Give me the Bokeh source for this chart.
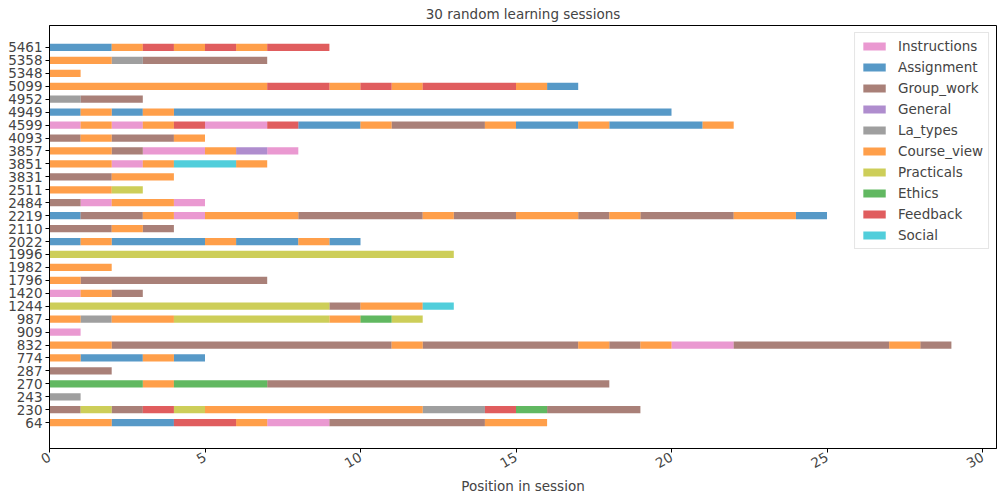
import math
from bokeh.plotting import figure
from bokeh.models import ColumnDataSource, Range1d, FixedTicker, Legend, LegendItem
from bokeh.embed import file_html
from bokeh.resources import INLINE

# Categories (legend order) and colours
categories = ["Instructions", "Assignment", "Group_work", "General", "La_types",
              "Course_view", "Practicals", "Ethics", "Feedback", "Social"]
colors = ["#e377c2", "#1f77b4", "#8c564b", "#9467bd", "#7f7f7f",
          "#ff7f0e", "#bcbd22", "#2ca02c", "#d62728", "#17becf"]
codes = {"I": "Instructions", "A": "Assignment", "G": "Group_work", "N": "General",
         "L": "La_types", "C": "Course_view", "P": "Practicals", "E": "Ethics",
         "F": "Feedback", "S": "Social"}

# Sessions, bottom to top, and their action sequences (one letter per position)
sessions = ["64", "230", "243", "270", "287", "774", "832", "909", "987", "1244",
            "1420", "1796", "1982", "1996", "2022", "2110", "2219", "2484", "2511", "3831",
            "3851", "3857", "4093", "4599", "4949", "4952", "5099", "5348", "5358", "5461"]
sequences = [
    "CCAAFFCIIGGGGGCC",                 # 64
    "GPGFPCCCCCCCLLFEGGG",              # 230
    "L",                                # 243
    "EEECEEEGGGGGGGGGGG",               # 270
    "GG",                               # 287
    "CAACA",                            # 774
    "CCGGGGGGGGGCGGGGGCGCIIGGGGGCG",    # 832
    "I",                                # 909
    "CLCCPPPPPCEP",                     # 987
    "PPPPPPPPPGCCS",                    # 1244
    "ICG",                              # 1420
    "CGGGGGG",                          # 1796
    "CC",                               # 1982
    "PPPPPPPPPPPPP",                    # 1996
    "ACAAACAACA",                       # 2022
    "GGCG",                             # 2110
    "AGGCICCCGGGGCGGCCGCGGGCCA",        # 2219
    "GICCI",                            # 2484
    "CCP",                              # 2511
    "GGCC",                             # 3831
    "CCICSSC",                          # 3851
    "CCGIICNI",                         # 3857
    "GCGGC",                            # 4093
    "ICICFIIFAACGGGCAACAAAC",           # 4599
    "ACACAAAAAAAAAAAAAAAA",             # 4949
    "LGG",                              # 4952
    "CCCCCCCFFCFCFFFCA",                # 5099
    "C",                                # 5348
    "CCLGGGG",                          # 5358
    "AACFCFCFF",                        # 5461
]

FONT = "DejaVu Sans"

p = figure(width=1000, height=500, output_backend="svg", toolbar_location=None,
           x_range=Range1d(0, 30.45), y_range=Range1d(-2.0, 30.7),
           min_border_left=49, min_border_right=4, min_border_top=24, min_border_bottom=52,
           title="30 random learning sessions")
p.title.align = "center"
p.title.text_font = FONT
p.title.text_font_size = "13.5px"
p.title.text_font_style = "normal"
p.title.offset = 0
p.title.standoff = 7

# build merged runs per category
data = {c: dict(y=[], left=[], right=[]) for c in categories}
for yi, seq in enumerate(sequences):
    start = 0
    for i in range(1, len(seq) + 1):
        if i == len(seq) or seq[i] != seq[start]:
            d = data[codes[seq[start]]]
            d["y"].append(yi)
            d["left"].append(start)
            d["right"].append(i)
            start = i

items = []
for c, col in zip(categories, colors):
    r = p.hbar(y="y", left="left", right="right", height=0.56,
               source=ColumnDataSource(data[c]), fill_color=col, fill_alpha=0.75,
               line_color=None)
    items.append(LegendItem(label=c, renderers=[r]))

legend = Legend(items=items, location="top_right")
legend.label_text_font = FONT
legend.label_text_font_size = "13.5px"
legend.glyph_width = 28
legend.glyph_height = 10
legend.spacing = 5
legend.padding = 5
legend.margin = 7
legend.label_standoff = 10
legend.border_line_color = "#cccccc"
legend.border_line_width = 1
legend.background_fill_alpha = 0.8
legend.label_height = 14
p.add_layout(legend)

p.xgrid.visible = False
p.ygrid.visible = False
p.outline_line_color = "black"
p.outline_line_width = 1

p.xaxis.ticker = FixedTicker(ticks=[0, 5, 10, 15, 20, 25, 30])
p.xaxis.major_label_orientation = math.pi / 6
p.xaxis.axis_label = "Position in session"
p.yaxis.ticker = FixedTicker(ticks=list(range(len(sessions))))
p.yaxis.major_label_overrides = {i: s for i, s in enumerate(sessions)}

for ax in (p.xaxis[0], p.yaxis[0]):
    ax.major_label_text_font = FONT
    ax.major_label_text_font_size = "13.5px"
    ax.axis_label_text_font = FONT
    ax.axis_label_text_font_size = "13.5px"
    ax.axis_label_text_font_style = "normal"
    ax.minor_tick_line_color = None
    ax.major_tick_out = 4
    ax.major_tick_in = 0
    ax.axis_line_color = "black"
    ax.major_tick_line_color = "black"
    ax.major_label_standoff = 3
    ax.axis_label_standoff = 2

open("out.html", "w").write(file_html(p, INLINE))
